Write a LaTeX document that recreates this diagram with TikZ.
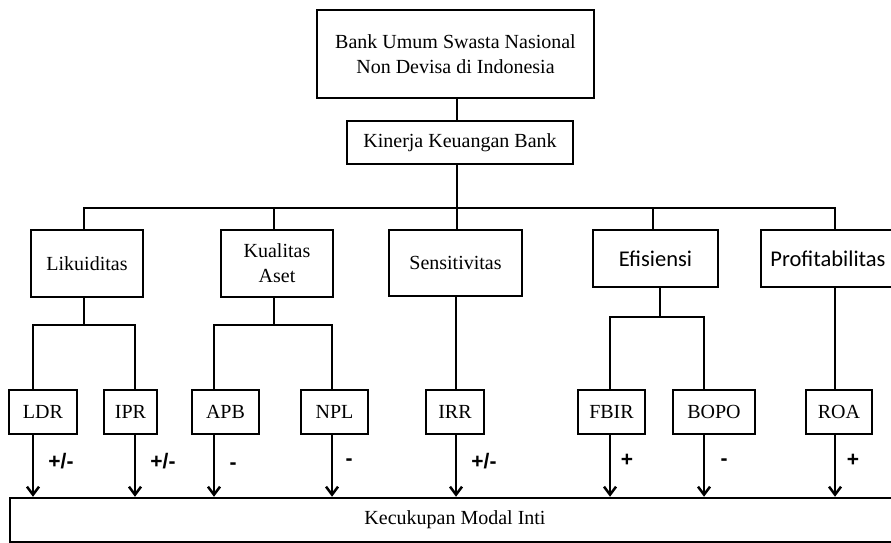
\documentclass[tikz,border=0pt]{standalone}
\usepackage{fontspec}
\setmainfont{Liberation Serif}
\newfontfamily\calfont{Carlito}
\newfontfamily\arfont{Liberation Sans}
\usetikzlibrary{arrows.meta}

\begin{document}
\begin{tikzpicture}[
    x=1pt, y=-1pt,
    font=\fontsize{20}{25}\selectfont,
    nd/.style={draw, line width=2.5pt, align=center, inner sep=2pt},
    leaf/.style={nd, minimum height=44pt},
    cal/.style={font=\calfont\fontsize{22.5}{26}\selectfont},
    ln/.style={line width=1.3pt},
    tk/.style={line width=2.5pt},
    ar/.style={tk, -{Straight Barb[length=8pt, width=12pt, line width=2.5pt]}},
    sg/.style={font=\arfont\bfseries\fontsize{21}{24}\selectfont}
]
\useasboundingbox (0,0) rectangle (891,543);

\node[nd, minimum width=277pt, minimum height=88pt] (bank) at (455.5,54) {Bank Umum Swasta Nasional\\Non Devisa di Indonesia};
\node[nd, minimum width=226pt, minimum height=43pt] (kin) at (460,142.5) {Kinerja Keuangan Bank};

\node[nd, minimum width=112pt, minimum height=67pt] (lik) at (87,263.5) {Likuiditas};
\node[nd, minimum width=112pt, minimum height=67pt] (kual) at (277,263.5) {Kualitas\\Aset};
\node[nd, minimum width=133pt, minimum height=66pt] (sens) at (455.5,263) {Sensitivitas};
\node[nd, cal, minimum width=125pt, minimum height=57pt] (efis) at (655.5,258.5) {Efisiensi};
\node[nd, cal, minimum width=134pt, minimum height=57pt] (prof) at (828,258.5) {Profitabilitas};

\node[leaf, minimum width=68pt] (ldr) at (43,412) {LDR};
\node[leaf, minimum width=53pt] (ipr) at (130.5,412) {IPR};
\node[leaf, minimum width=67pt] (apb) at (225.5,412) {APB};
\node[leaf, minimum width=67pt] (npl) at (334.5,412) {NPL};
\node[leaf, minimum width=58pt] (irr) at (455,412) {IRR};
\node[leaf, minimum width=67pt] (fbir) at (611.5,412) {FBIR};
\node[leaf, minimum width=82pt] (bopo) at (714,412) {BOPO};
\node[leaf, minimum width=66pt] (roa) at (839,412) {ROA};

\node[nd, minimum width=890pt, minimum height=44pt] (kmi) at (455,520) {Kecukupan Modal Inti};

% titik cabang
\coordinate (bus) at (457,208);
\coordinate (bLik) at (84,325);
\coordinate (bKual) at (274,325);
\coordinate (bEfis) at (660,317);

\draw[ln] (bank.south -| bus) -- (kin.north -| bus);
\draw[ln] (kin.south -| bus) -- (bus);
\draw[tk] (lik.north -| bLik) |- (bus) -| (prof.north -| 835,0);
\draw[ln] (bus -| bKual) -- (kual.north -| bKual);
\draw[ln] (bus) -- (sens.north -| bus);
\draw[ln] (bus -| 653,0) -- (efis.north -| 653,0);

\draw[ln] (lik.south -| bLik) -- (bLik);
\draw[tk] (ldr.north -| 33,0) |- (bLik) -| (ipr.north -| 135,0);
\draw[ln] (kual.south -| bKual) -- (bKual);
\draw[tk] (apb.north -| 214,0) |- (bKual) -| (npl.north -| 332,0);
\draw[tk] (sens.south -| 456,0) -- (irr.north -| 456,0);
\draw[ln] (efis.south -| bEfis) -- (bEfis);
\draw[tk] (fbir.north -| 610,0) |- (bEfis) -| (bopo.north -| 704,0);
\draw[tk] (prof.south -| 835,0) -- (roa.north -| 835,0);

\foreach \n/\x in {ldr/33, ipr/135, apb/214, npl/332, irr/456, fbir/610, bopo/704, roa/835}
  \draw[ar] (\n.south -| \x,0) -- (kmi.north -| \x,0);

\node[sg] (sLdr) at (61,461) {+/-};
\node[sg] (sIpr) at (163,461) {+/-};
\node[sg] (sApb) at (233,466) {-};
\node[sg] (sNpl) at (349,462) {-};
\node[sg] (sIrr) at (484,461) {+/-};
\node[sg] (sFbir) at (627,460) {+};
\node[sg] (sBopo) at (724,462) {-};
\node[sg] (sRoa) at (853,460) {+};
\end{tikzpicture}
\end{document}
